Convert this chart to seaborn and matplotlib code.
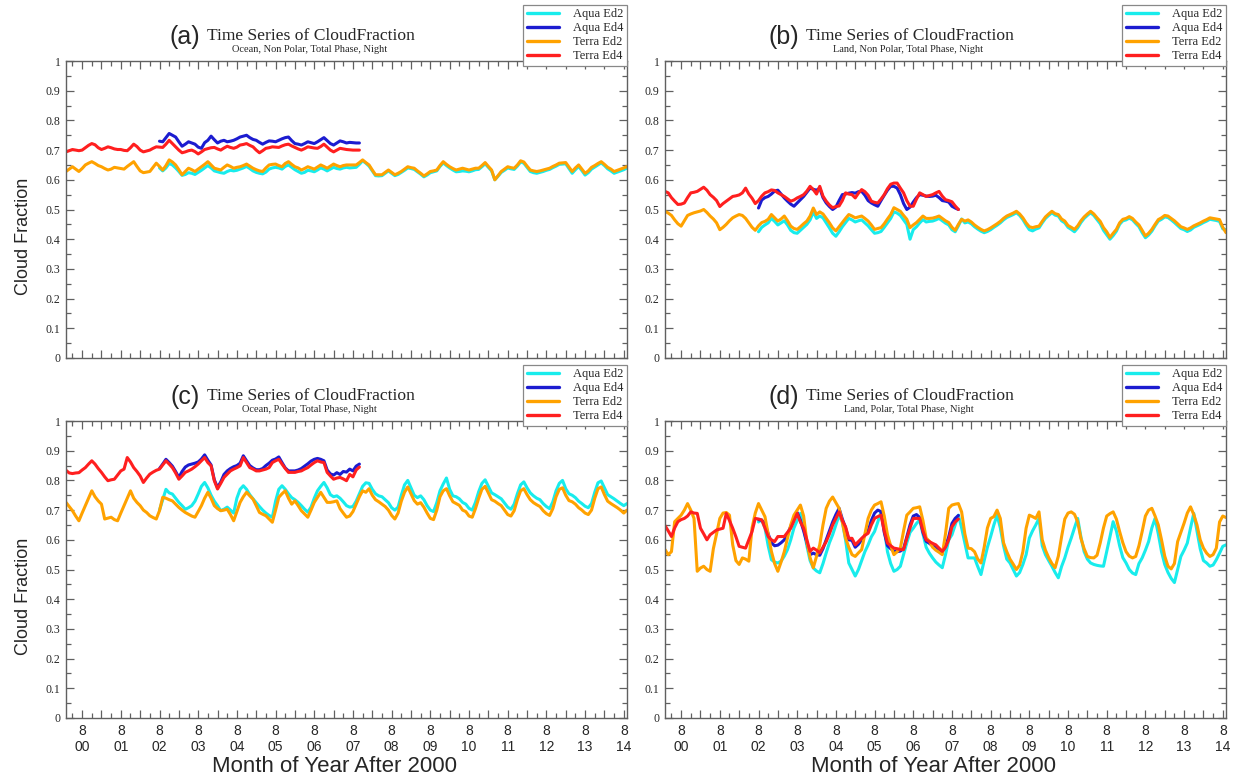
import numpy as np
import pandas as pd
import matplotlib
matplotlib.use("Agg")
import matplotlib.pyplot as plt
import seaborn as sns
from matplotlib.lines import Line2D
from matplotlib.ticker import FixedLocator, MultipleLocator

sns.set_style("ticks")
plt.rcParams["font.family"] = ["Liberation Serif", "DejaVu Serif"]

# ---------------------------------------------------------------------------
# Data: monthly cloud fraction, month index = months since Jan 2000
# ---------------------------------------------------------------------------
TERRA_ED2_START = 2    # Mar 2000
AQUA_ED2_START = 31    # Aug 2002
TERRA_ED4_START = 2    # Mar 2000
AQUA_ED4_START = 31    # Aug 2002
X_MIN, X_MAX = 2, 176

series_names = ["Aqua Ed2", "Aqua Ed4", "Terra Ed2", "Terra Ed4"]
series_colors = ["#18ECEC", "#1C1CD0", "#FFA200", "#FF1F1F"]
panel_letters = ["(a)", "(b)", "(c)", "(d)"]
panel_title = "Time Series of CloudFraction"
panel_subtitles = ["Ocean, Non Polar, Total Phase, Night",
                   "Land, Non Polar, Total Phase, Night",
                   "Ocean, Polar, Total Phase, Night",
                   "Land, Polar, Total Phase, Night"]
tick_month = "8"
tick_years = ["00", "01", "02", "03", "04", "05", "06", "07",
              "08", "09", "10", "11", "12", "13", "14"]
y_tick_values = [0, 0.1, 0.2, 0.3, 0.4, 0.5, 0.6, 0.7, 0.8, 0.9, 1.0]
y_tick_labels = ["0", "0.1", "0.2", "0.3", "0.4", "0.5", "0.6", "0.7", "0.8", "0.9", "1"]
x_label = "Month of Year After 2000"
y_label = "Cloud Fraction"

# ---- (a) Ocean, Non Polar ----
a_terra_ed2 = [
    0.628, 0.636, 0.644, 0.636, 0.628, 0.638, 0.650, 0.656, 0.661, 0.655,
    0.648, 0.644, 0.638, 0.633, 0.636, 0.642, 0.640, 0.638, 0.636, 0.645, 0.653, 0.661,
    0.645, 0.630, 0.624, 0.626, 0.628, 0.642, 0.656, 0.645, 0.633, 0.648, 0.667, 0.660,
    0.650, 0.634, 0.617, 0.628, 0.639, 0.634, 0.628, 0.636, 0.644, 0.652, 0.661, 0.650,
    0.639, 0.636, 0.633, 0.642, 0.650, 0.645, 0.639, 0.642, 0.644, 0.648, 0.653, 0.646,
    0.639, 0.634, 0.630, 0.628, 0.640, 0.650, 0.652, 0.653, 0.648, 0.644, 0.655, 0.661,
    0.652, 0.644, 0.640, 0.633, 0.638, 0.644, 0.640, 0.636, 0.643, 0.650, 0.645, 0.639,
    0.646, 0.653, 0.648, 0.644, 0.648, 0.650, 0.650, 0.650, 0.650, 0.658, 0.667, 0.658,
    0.650, 0.633, 0.617, 0.617, 0.617, 0.625, 0.633, 0.625, 0.617, 0.622, 0.628, 0.636,
    0.644, 0.641, 0.639, 0.630, 0.622, 0.613, 0.620, 0.628, 0.630, 0.633, 0.648, 0.661,
    0.652, 0.644, 0.638, 0.633, 0.636, 0.639, 0.636, 0.633, 0.636, 0.639, 0.639, 0.648,
    0.658, 0.645, 0.633, 0.600, 0.614, 0.628, 0.636, 0.644, 0.641, 0.639, 0.650, 0.664,
    0.660, 0.646, 0.633, 0.630, 0.628, 0.630, 0.633, 0.636, 0.639, 0.645, 0.650, 0.656,
    0.657, 0.658, 0.643, 0.628, 0.640, 0.650, 0.636, 0.622, 0.630, 0.642, 0.648, 0.655,
    0.661, 0.652, 0.642, 0.636, 0.628, 0.632, 0.636, 0.640, 0.645]
a_aqua_ed2 = [
    0.640, 0.630, 0.640, 0.655, 0.650,
    0.640, 0.628, 0.615, 0.618, 0.624, 0.622, 0.618, 0.625, 0.632, 0.640, 0.648, 0.640,
    0.630, 0.627, 0.624, 0.622, 0.628, 0.632, 0.630, 0.632, 0.636, 0.640, 0.645, 0.638,
    0.630, 0.625, 0.622, 0.620, 0.626, 0.636, 0.640, 0.642, 0.640, 0.636, 0.645, 0.650,
    0.642, 0.634, 0.628, 0.622, 0.625, 0.632, 0.630, 0.627, 0.633, 0.640, 0.636, 0.630,
    0.636, 0.642, 0.638, 0.636, 0.640, 0.642, 0.640, 0.641, 0.642, 0.652, 0.664, 0.656,
    0.646, 0.630, 0.614, 0.613, 0.614, 0.622, 0.630, 0.622, 0.614, 0.618, 0.625, 0.632,
    0.640, 0.638, 0.635, 0.627, 0.619, 0.610, 0.616, 0.624, 0.627, 0.630, 0.645, 0.657,
    0.648, 0.640, 0.633, 0.627, 0.628, 0.630, 0.629, 0.627, 0.630, 0.634, 0.635, 0.644,
    0.654, 0.642, 0.630, 0.600, 0.612, 0.625, 0.632, 0.640, 0.637, 0.635, 0.646, 0.660,
    0.656, 0.642, 0.628, 0.624, 0.622, 0.625, 0.628, 0.632, 0.635, 0.641, 0.646, 0.652,
    0.653, 0.654, 0.638, 0.622, 0.634, 0.645, 0.631, 0.616, 0.624, 0.636, 0.643, 0.650,
    0.657, 0.648, 0.637, 0.630, 0.622, 0.626, 0.630, 0.634, 0.640]
a_terra_ed4 = [
    0.694, 0.698, 0.702, 0.700, 0.698, 0.700, 0.708, 0.716, 0.722, 0.718,
    0.708, 0.702, 0.706, 0.711, 0.708, 0.704, 0.702, 0.702, 0.699, 0.698, 0.708, 0.720,
    0.712, 0.700, 0.694, 0.697, 0.700, 0.706, 0.711, 0.710, 0.709, 0.720, 0.733, 0.722,
    0.711, 0.700, 0.691, 0.694, 0.698, 0.700, 0.695, 0.687, 0.694, 0.702, 0.705, 0.708,
    0.709, 0.704, 0.700, 0.707, 0.713, 0.709, 0.706, 0.710, 0.717, 0.719, 0.722, 0.716,
    0.711, 0.700, 0.691, 0.698, 0.706, 0.708, 0.711, 0.710, 0.709, 0.714, 0.718, 0.720,
    0.714, 0.709, 0.704, 0.700, 0.705, 0.711, 0.709, 0.707, 0.706, 0.712, 0.720, 0.710,
    0.700, 0.694, 0.700, 0.706, 0.704, 0.702, 0.701, 0.700, 0.700, 0.700]
a_aqua_ed4 = [
    0.730, 0.728, 0.742, 0.756, 0.750,
    0.744, 0.728, 0.713, 0.720, 0.728, 0.724, 0.720, 0.710, 0.706, 0.725, 0.733, 0.747,
    0.735, 0.724, 0.730, 0.733, 0.728, 0.730, 0.733, 0.738, 0.744, 0.747, 0.750, 0.742,
    0.736, 0.733, 0.726, 0.720, 0.726, 0.731, 0.730, 0.728, 0.733, 0.738, 0.742, 0.744,
    0.732, 0.722, 0.720, 0.717, 0.722, 0.728, 0.725, 0.722, 0.728, 0.735, 0.742, 0.732,
    0.722, 0.717, 0.724, 0.731, 0.728, 0.724, 0.726, 0.725, 0.724, 0.724]

# ---- (b) Land, Non Polar ----
b_terra_ed2 = [
    0.494, 0.488, 0.480, 0.465, 0.452, 0.444, 0.462, 0.480, 0.485, 0.489,
    0.492, 0.495, 0.500, 0.490, 0.478, 0.468, 0.455, 0.432, 0.440, 0.450, 0.462, 0.472,
    0.478, 0.483, 0.480, 0.470, 0.455, 0.440, 0.430, 0.445, 0.456, 0.460, 0.467, 0.483,
    0.472, 0.461, 0.468, 0.478, 0.462, 0.444, 0.436, 0.433, 0.442, 0.452, 0.461, 0.478,
    0.505, 0.483, 0.492, 0.485, 0.470, 0.455, 0.438, 0.428, 0.442, 0.456, 0.470, 0.483,
    0.478, 0.472, 0.475, 0.478, 0.470, 0.461, 0.448, 0.433, 0.436, 0.439, 0.452, 0.468,
    0.483, 0.506, 0.500, 0.494, 0.480, 0.467, 0.439, 0.448, 0.456, 0.467, 0.478, 0.470,
    0.470, 0.471, 0.474, 0.478, 0.470, 0.462, 0.456, 0.440, 0.430, 0.450, 0.467, 0.461,
    0.465, 0.458, 0.448, 0.440, 0.433, 0.428, 0.432, 0.438, 0.445, 0.452, 0.460, 0.470,
    0.478, 0.483, 0.488, 0.494, 0.485, 0.472, 0.455, 0.442, 0.439, 0.442, 0.444, 0.460,
    0.475, 0.485, 0.494, 0.486, 0.483, 0.468, 0.461, 0.446, 0.440, 0.433, 0.445, 0.462,
    0.475, 0.485, 0.494, 0.485, 0.472, 0.460, 0.439, 0.425, 0.406, 0.420, 0.433, 0.455,
    0.467, 0.470, 0.476, 0.470, 0.458, 0.448, 0.430, 0.411, 0.420, 0.433, 0.450, 0.466,
    0.472, 0.480, 0.478, 0.470, 0.462, 0.452, 0.442, 0.438, 0.433, 0.438, 0.445, 0.450,
    0.455, 0.461, 0.466, 0.472, 0.470, 0.468, 0.466, 0.440, 0.422]
b_aqua_ed2 = [
    0.425, 0.440, 0.448, 0.455, 0.470,
    0.460, 0.448, 0.455, 0.462, 0.448, 0.430, 0.422, 0.420, 0.430, 0.440, 0.450, 0.465,
    0.492, 0.470, 0.478, 0.472, 0.455, 0.438, 0.420, 0.410, 0.425, 0.442, 0.456, 0.470,
    0.465, 0.458, 0.462, 0.465, 0.455, 0.445, 0.432, 0.420, 0.422, 0.426, 0.440, 0.455,
    0.470, 0.492, 0.488, 0.480, 0.465, 0.450, 0.400, 0.432, 0.442, 0.455, 0.466, 0.458,
    0.460, 0.461, 0.465, 0.470, 0.462, 0.454, 0.448, 0.432, 0.425, 0.445, 0.468, 0.455,
    0.458, 0.452, 0.442, 0.434, 0.427, 0.422, 0.426, 0.432, 0.440, 0.447, 0.455, 0.465,
    0.473, 0.478, 0.483, 0.489, 0.480, 0.466, 0.448, 0.432, 0.428, 0.434, 0.438, 0.455,
    0.470, 0.480, 0.489, 0.481, 0.478, 0.462, 0.455, 0.440, 0.433, 0.425, 0.438, 0.456,
    0.470, 0.480, 0.489, 0.480, 0.466, 0.452, 0.430, 0.415, 0.400, 0.412, 0.427, 0.450,
    0.462, 0.465, 0.471, 0.465, 0.453, 0.442, 0.422, 0.405, 0.414, 0.427, 0.445, 0.461,
    0.467, 0.475, 0.473, 0.465, 0.456, 0.446, 0.436, 0.432, 0.426, 0.431, 0.440, 0.445,
    0.450, 0.456, 0.461, 0.467, 0.465, 0.463, 0.460, 0.435, 0.432]
b_terra_ed4 = [
    0.561, 0.556, 0.540, 0.528, 0.517, 0.518, 0.522, 0.540, 0.556, 0.558,
    0.561, 0.568, 0.575, 0.565, 0.550, 0.541, 0.530, 0.510, 0.520, 0.528, 0.536, 0.544,
    0.546, 0.549, 0.556, 0.572, 0.552, 0.538, 0.520, 0.530, 0.545, 0.556, 0.560, 0.566,
    0.564, 0.556, 0.550, 0.544, 0.536, 0.528, 0.532, 0.539, 0.544, 0.550, 0.562, 0.578,
    0.567, 0.552, 0.578, 0.545, 0.528, 0.515, 0.506, 0.510, 0.512, 0.530, 0.556, 0.552,
    0.550, 0.539, 0.555, 0.567, 0.560, 0.548, 0.528, 0.524, 0.522, 0.535, 0.550, 0.570,
    0.585, 0.589, 0.589, 0.572, 0.556, 0.530, 0.511, 0.511, 0.535, 0.556, 0.550, 0.544,
    0.547, 0.550, 0.556, 0.561, 0.545, 0.533, 0.530, 0.526, 0.512, 0.500]
b_aqua_ed4 = [
    0.505, 0.532, 0.540, 0.544, 0.552,
    0.562, 0.565, 0.552, 0.539, 0.528, 0.518, 0.511, 0.522, 0.533, 0.544, 0.558, 0.572,
    0.568, 0.565, 0.572, 0.540, 0.522, 0.510, 0.500, 0.508, 0.530, 0.550, 0.552, 0.555,
    0.557, 0.555, 0.560, 0.561, 0.548, 0.530, 0.522, 0.516, 0.511, 0.530, 0.548, 0.565,
    0.578, 0.578, 0.572, 0.550, 0.520, 0.500, 0.508, 0.525, 0.540, 0.550, 0.548, 0.545,
    0.544, 0.545, 0.548, 0.540, 0.530, 0.528, 0.525, 0.511, 0.505, 0.500]

# ---- (c) Ocean, Polar ----
c_terra_ed2 = [
    0.726, 0.712, 0.698, 0.680, 0.664, 0.690, 0.715, 0.740, 0.765, 0.745,
    0.731, 0.720, 0.670, 0.673, 0.676, 0.668, 0.664, 0.690, 0.715, 0.740, 0.765, 0.740,
    0.726, 0.715, 0.700, 0.692, 0.681, 0.675, 0.670, 0.698, 0.743, 0.740, 0.735, 0.731,
    0.720, 0.709, 0.700, 0.692, 0.686, 0.680, 0.676, 0.695, 0.715, 0.740, 0.760, 0.740,
    0.715, 0.705, 0.698, 0.700, 0.703, 0.685, 0.664, 0.695, 0.726, 0.745, 0.760, 0.748,
    0.737, 0.715, 0.692, 0.686, 0.681, 0.670, 0.659, 0.700, 0.743, 0.755, 0.765, 0.740,
    0.720, 0.731, 0.715, 0.698, 0.687, 0.676, 0.700, 0.726, 0.743, 0.760, 0.743, 0.726,
    0.726, 0.728, 0.731, 0.705, 0.690, 0.676, 0.680, 0.695, 0.720, 0.745, 0.765, 0.760,
    0.772, 0.750, 0.735, 0.728, 0.720, 0.712, 0.700, 0.682, 0.670, 0.690, 0.730, 0.760,
    0.778, 0.755, 0.732, 0.720, 0.725, 0.710, 0.690, 0.672, 0.668, 0.700, 0.745, 0.765,
    0.772, 0.748, 0.728, 0.722, 0.716, 0.700, 0.695, 0.680, 0.676, 0.705, 0.740, 0.770,
    0.780, 0.758, 0.735, 0.730, 0.722, 0.715, 0.700, 0.685, 0.680, 0.698, 0.735, 0.765,
    0.772, 0.752, 0.735, 0.725, 0.718, 0.712, 0.698, 0.688, 0.682, 0.705, 0.745, 0.770,
    0.775, 0.750, 0.732, 0.728, 0.720, 0.708, 0.700, 0.690, 0.685, 0.700, 0.740, 0.772,
    0.778, 0.752, 0.730, 0.722, 0.715, 0.708, 0.700, 0.690, 0.700]
c_aqua_ed2 = [
    0.700, 0.735, 0.770, 0.758, 0.754,
    0.740, 0.726, 0.715, 0.703, 0.708, 0.715, 0.730, 0.754, 0.780, 0.793, 0.775, 0.750,
    0.730, 0.715, 0.698, 0.703, 0.710, 0.700, 0.690, 0.740, 0.770, 0.782, 0.770, 0.752,
    0.738, 0.725, 0.712, 0.700, 0.690, 0.682, 0.676, 0.730, 0.770, 0.782, 0.770, 0.755,
    0.742, 0.735, 0.726, 0.715, 0.703, 0.693, 0.710, 0.740, 0.765, 0.780, 0.793, 0.775,
    0.752, 0.745, 0.748, 0.740, 0.728, 0.715, 0.710, 0.712, 0.730, 0.755, 0.780, 0.792,
    0.790, 0.770, 0.755, 0.748, 0.745, 0.735, 0.725, 0.708, 0.700, 0.710, 0.750, 0.785,
    0.800, 0.775, 0.750, 0.742, 0.748, 0.735, 0.715, 0.700, 0.695, 0.725, 0.765, 0.788,
    0.808, 0.770, 0.748, 0.745, 0.738, 0.726, 0.720, 0.706, 0.700, 0.726, 0.762, 0.790,
    0.802, 0.780, 0.758, 0.752, 0.745, 0.738, 0.724, 0.710, 0.703, 0.720, 0.755, 0.785,
    0.795, 0.775, 0.758, 0.748, 0.740, 0.735, 0.722, 0.712, 0.705, 0.728, 0.765, 0.790,
    0.800, 0.772, 0.755, 0.750, 0.742, 0.730, 0.722, 0.713, 0.708, 0.722, 0.760, 0.792,
    0.798, 0.775, 0.752, 0.745, 0.738, 0.730, 0.722, 0.715, 0.722]
c_terra_ed4 = [
    0.834, 0.825, 0.823, 0.825, 0.826, 0.835, 0.843, 0.855, 0.866, 0.855,
    0.840, 0.827, 0.812, 0.799, 0.802, 0.804, 0.818, 0.832, 0.838, 0.877, 0.862, 0.843,
    0.830, 0.815, 0.793, 0.808, 0.821, 0.828, 0.834, 0.838, 0.852, 0.866, 0.855, 0.843,
    0.825, 0.804, 0.815, 0.827, 0.832, 0.838, 0.846, 0.855, 0.866, 0.877, 0.860, 0.849,
    0.799, 0.771, 0.790, 0.810, 0.821, 0.832, 0.838, 0.843, 0.849, 0.877, 0.860, 0.843,
    0.838, 0.832, 0.832, 0.835, 0.838, 0.843, 0.860, 0.866, 0.871, 0.855, 0.840, 0.827,
    0.827, 0.827, 0.830, 0.832, 0.838, 0.843, 0.852, 0.860, 0.866, 0.862, 0.860, 0.827,
    0.815, 0.804, 0.808, 0.810, 0.805, 0.799, 0.820, 0.812, 0.835, 0.845]
c_aqua_ed4 = [
    0.840, 0.855, 0.871, 0.860, 0.848,
    0.830, 0.810, 0.830, 0.845, 0.852, 0.855, 0.858, 0.862, 0.872, 0.886, 0.868, 0.852,
    0.802, 0.776, 0.795, 0.820, 0.832, 0.840, 0.846, 0.850, 0.858, 0.883, 0.866, 0.850,
    0.842, 0.836, 0.836, 0.840, 0.850, 0.858, 0.868, 0.872, 0.879, 0.860, 0.842, 0.832,
    0.832, 0.832, 0.835, 0.840, 0.848, 0.856, 0.865, 0.871, 0.874, 0.871, 0.866, 0.835,
    0.822, 0.818, 0.826, 0.820, 0.830, 0.828, 0.838, 0.832, 0.848, 0.855]

# ---- (d) Land, Polar ----
d_terra_ed2 = [
    0.567, 0.550, 0.560, 0.661, 0.672, 0.683, 0.700, 0.722, 0.700, 0.672,
    0.494, 0.505, 0.511, 0.500, 0.494, 0.570, 0.620, 0.672, 0.690, 0.692, 0.683, 0.583,
    0.530, 0.517, 0.539, 0.535, 0.528, 0.640, 0.690, 0.722, 0.700, 0.678, 0.620, 0.561,
    0.520, 0.494, 0.525, 0.560, 0.606, 0.650, 0.683, 0.700, 0.717, 0.680, 0.594, 0.540,
    0.506, 0.545, 0.583, 0.650, 0.706, 0.730, 0.744, 0.725, 0.706, 0.660, 0.606, 0.575,
    0.550, 0.544, 0.556, 0.567, 0.620, 0.672, 0.700, 0.717, 0.722, 0.728, 0.680, 0.617,
    0.580, 0.550, 0.560, 0.572, 0.630, 0.683, 0.694, 0.706, 0.708, 0.711, 0.665, 0.606,
    0.595, 0.575, 0.565, 0.558, 0.550, 0.620, 0.706, 0.717, 0.720, 0.722, 0.694, 0.620,
    0.572, 0.570, 0.560, 0.535, 0.522, 0.575, 0.640, 0.672, 0.678, 0.700, 0.672, 0.590,
    0.560, 0.535, 0.518, 0.500, 0.515, 0.560, 0.639, 0.683, 0.678, 0.672, 0.694, 0.600,
    0.565, 0.540, 0.520, 0.506, 0.545, 0.610, 0.670, 0.690, 0.694, 0.686, 0.660, 0.605,
    0.570, 0.544, 0.540, 0.539, 0.548, 0.590, 0.640, 0.680, 0.688, 0.694, 0.670, 0.628,
    0.590, 0.560, 0.545, 0.539, 0.544, 0.580, 0.628, 0.680, 0.700, 0.706, 0.680, 0.650,
    0.600, 0.545, 0.511, 0.502, 0.520, 0.594, 0.625, 0.656, 0.690, 0.711, 0.685, 0.650,
    0.600, 0.572, 0.555, 0.544, 0.550, 0.572, 0.660, 0.680, 0.675]
d_aqua_ed2 = [
    0.660, 0.667, 0.640, 0.580, 0.533,
    0.525, 0.522, 0.528, 0.545, 0.567, 0.600, 0.640, 0.665, 0.689, 0.640, 0.580, 0.530,
    0.505, 0.495, 0.489, 0.520, 0.556, 0.590, 0.617, 0.650, 0.683, 0.660, 0.600, 0.522,
    0.500, 0.478, 0.500, 0.530, 0.560, 0.583, 0.610, 0.628, 0.660, 0.694, 0.640, 0.560,
    0.520, 0.494, 0.500, 0.511, 0.550, 0.590, 0.625, 0.639, 0.655, 0.667, 0.620, 0.575,
    0.555, 0.539, 0.525, 0.515, 0.506, 0.550, 0.600, 0.617, 0.650, 0.683, 0.640, 0.590,
    0.539, 0.539, 0.539, 0.510, 0.483, 0.530, 0.575, 0.611, 0.650, 0.683, 0.640, 0.580,
    0.535, 0.522, 0.500, 0.478, 0.490, 0.517, 0.550, 0.606, 0.630, 0.650, 0.672, 0.580,
    0.550, 0.530, 0.511, 0.490, 0.472, 0.510, 0.539, 0.575, 0.606, 0.640, 0.672, 0.610,
    0.560, 0.535, 0.522, 0.517, 0.514, 0.512, 0.511, 0.560, 0.610, 0.661, 0.630, 0.580,
    0.540, 0.522, 0.500, 0.488, 0.483, 0.520, 0.539, 0.565, 0.594, 0.640, 0.672, 0.620,
    0.560, 0.517, 0.490, 0.470, 0.456, 0.500, 0.544, 0.565, 0.589, 0.640, 0.689, 0.630,
    0.570, 0.530, 0.522, 0.511, 0.515, 0.533, 0.555, 0.578, 0.583]
d_terra_ed4 = [
    0.648, 0.630, 0.611, 0.640, 0.661, 0.668, 0.672, 0.680, 0.694, 0.690,
    0.689, 0.639, 0.620, 0.600, 0.617, 0.625, 0.633, 0.636, 0.639, 0.689, 0.665, 0.639,
    0.610, 0.578, 0.575, 0.572, 0.600, 0.628, 0.672, 0.670, 0.667, 0.640, 0.611, 0.600,
    0.594, 0.611, 0.611, 0.611, 0.625, 0.639, 0.664, 0.689, 0.660, 0.639, 0.600, 0.561,
    0.572, 0.565, 0.556, 0.575, 0.594, 0.620, 0.650, 0.672, 0.694, 0.665, 0.644, 0.605,
    0.605, 0.583, 0.594, 0.605, 0.615, 0.622, 0.650, 0.672, 0.678, 0.683, 0.630, 0.589,
    0.580, 0.572, 0.570, 0.567, 0.567, 0.605, 0.640, 0.672, 0.672, 0.672, 0.630, 0.600,
    0.594, 0.588, 0.583, 0.572, 0.561, 0.575, 0.600, 0.644, 0.660, 0.670]
d_aqua_ed4 = [
    0.668, 0.665, 0.655, 0.620, 0.590,
    0.580, 0.582, 0.590, 0.600, 0.620, 0.645, 0.670, 0.692, 0.665, 0.630, 0.590, 0.550,
    0.555, 0.550, 0.548, 0.570, 0.600, 0.630, 0.660, 0.685, 0.706, 0.670, 0.640, 0.600,
    0.598, 0.575, 0.585, 0.600, 0.615, 0.630, 0.665, 0.690, 0.700, 0.695, 0.625, 0.580,
    0.570, 0.562, 0.560, 0.562, 0.570, 0.610, 0.650, 0.680, 0.685, 0.675, 0.625, 0.595,
    0.588, 0.580, 0.576, 0.565, 0.560, 0.578, 0.610, 0.655, 0.672, 0.682]

panels_data = [
    (a_aqua_ed2, a_aqua_ed4, a_terra_ed2, a_terra_ed4),
    (b_aqua_ed2, b_aqua_ed4, b_terra_ed2, b_terra_ed4),
    (c_aqua_ed2, c_aqua_ed4, c_terra_ed2, c_terra_ed4),
    (d_aqua_ed2, d_aqua_ed4, d_terra_ed2, d_terra_ed4),
]
series_starts = [AQUA_ED2_START, AQUA_ED4_START, TERRA_ED2_START, TERRA_ED4_START]

# ---------------------------------------------------------------------------
# Figure
# ---------------------------------------------------------------------------
W, H = 1236, 784
fig = plt.figure(figsize=(W / 100, H / 100), dpi=100)

def frac_box(left, top, right, bottom):
    return [left / W, 1 - bottom / H, (right - left) / W, (bottom - top) / H]

boxes = [frac_box(66, 61, 627, 358), frac_box(665, 61, 1226, 358),
         frac_box(66, 421, 627, 718), frac_box(665, 421, 1226, 718)]

major_x = list(range(7, X_MAX + 1, 6))
minor_x = list(range(4, X_MAX + 1, 6))
xt_labels = []
for m in major_x:
    if (m - 7) % 12 == 0:
        xt_labels.append(tick_month + "\n" + tick_years[(m - 7) // 12])
    else:
        xt_labels.append("")

frame_col = "#606060"
for i, box in enumerate(boxes):
    ax = fig.add_axes(box)
    for vals, start, name, col in zip(panels_data[i], series_starts, series_names, series_colors):
        df = pd.DataFrame({"month": np.arange(start, start + len(vals)), "cf": vals})
        sns.lineplot(data=df, x="month", y="cf", ax=ax, color=col, lw=2.2,
                     legend=False, estimator=None)
    ax.set_xlim(X_MIN, X_MAX)
    ax.set_ylim(0, 1)
    ax.set_xlabel("")
    ax.set_ylabel("")
    ax.xaxis.set_major_locator(FixedLocator(major_x))
    ax.xaxis.set_minor_locator(FixedLocator(minor_x))
    ax.set_yticks(y_tick_values)
    ax.set_yticklabels(y_tick_labels, fontsize=8.5, family=["Liberation Serif"])
    ax.yaxis.set_minor_locator(MultipleLocator(0.05))
    if i >= 2:
        ax.set_xticklabels(xt_labels, fontsize=10, family=["Liberation Sans"],
                           linespacing=1.25)
        ax.set_xlabel(x_label, fontsize=16, family=["Liberation Sans"])
        ax.xaxis.set_label_coords(0.479, -0.128)
    else:
        ax.set_xticklabels([""] * len(major_x))
    if i % 2 == 0:
        ax.set_ylabel(y_label, fontsize=13, family=["Liberation Sans"])
        ax.yaxis.set_label_coords(-0.06, 0.41)
    ax.tick_params(which="both", direction="in", top=True, right=True,
                   color=frame_col, width=0.9)
    ax.tick_params(which="major", length=6, pad=4)
    ax.tick_params(which="minor", length=3.5)
    for sp in ax.spines.values():
        sp.set_color(frame_col)
        sp.set_linewidth(1.0)

    ax.text(0.239, 1.058, panel_letters[i], transform=ax.transAxes, ha="right",
            va="baseline", fontsize=18, family=["Liberation Sans"])
    ax.text(0.251, 1.072, panel_title, transform=ax.transAxes, ha="left",
            va="baseline", fontsize=12.6)
    ax.text(0.434, 1.03, panel_subtitles[i], transform=ax.transAxes, ha="center",
            va="baseline", fontsize=7.5)

    handles = [Line2D([], [], color=c, lw=2.4) for c in series_colors]
    leg = ax.legend(handles, series_names, loc="upper right",
                    bbox_to_anchor=(1.0, 1.19), fontsize=9, frameon=True,
                    fancybox=False, framealpha=1, edgecolor="#888888",
                    borderpad=0.3, labelspacing=0.15, handlelength=2.6,
                    handletextpad=1.1, borderaxespad=0.0)
    leg.get_frame().set_linewidth(0.9)
    leg.set_zorder(10)

fig.savefig("out.png", dpi=100)
